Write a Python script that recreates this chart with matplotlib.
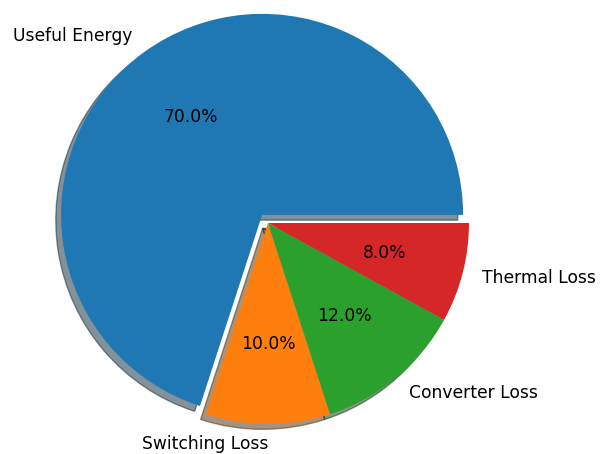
import matplotlib
matplotlib.use("Agg")
import matplotlib.pyplot as plt

labels = ["Useful Energy", "Switching Loss", "Converter Loss", "Thermal Loss"]
shares = [70, 10, 12, 8]
explode = [0.05, 0, 0, 0]
colors = ["#1f77b4", "#ff7f0e", "#2ca02c", "#d62728"]

W, H, DPI = 608, 454, 95
fig = plt.figure(figsize=(W / DPI, H / DPI), dpi=DPI)
ax = fig.add_axes([0, 0, 1, 1])

wedges, texts, autotexts = ax.pie(
    shares, labels=labels, explode=explode, colors=colors,
    autopct="%1.1f%%", shadow=True, startangle=0,
    textprops={"fontsize": 13})

# the bottom label sits just left of the centre line
texts[1].set_horizontalalignment("right")

# place the pie centre and scale inside the canvas
r_px, cx, cy = 201, 268, 223
ax.set_xlim(-cx / r_px, (W - cx) / r_px)
ax.set_ylim(-(H - cy) / r_px, cy / r_px)
ax.set_aspect("equal")
ax.axis("off")

fig.savefig("out.png", dpi=DPI)
